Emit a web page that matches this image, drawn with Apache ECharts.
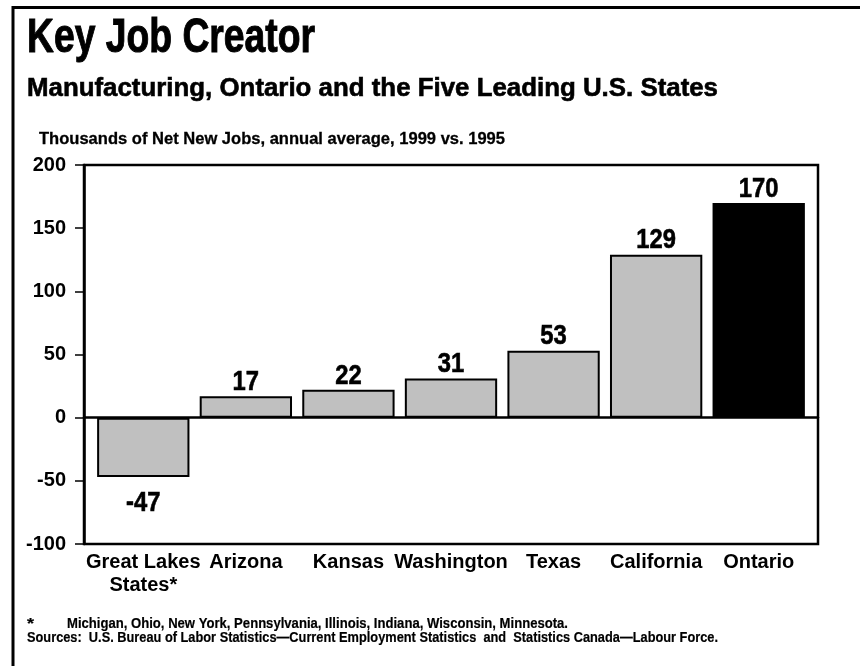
<!DOCTYPE html>
<html>
<head>
<meta charset="utf-8">
<script src="https://cdn.jsdelivr.net/npm/echarts@6/dist/echarts.min.js"></script>
<style>
  html, body { margin: 0; padding: 0; background: #fff; }
  #chart { width: 860px; height: 666px; }
</style>
</head>
<body>
<div id="chart"></div>
<script>
// Net new manufacturing jobs (thousands), annual average 1999 vs. 1995
const categories = ['Great Lakes\nStates*', 'Arizona', 'Kansas', 'Washington', 'Texas', 'California', 'Ontario'];
const jobs = [-47, 17, 22, 31, 53, 129, 170];
const highlight = 'Ontario';
const yTicks = { min: -100, max: 200, interval: 50 };

const FAMILY = '"Liberation Sans", Arial, Helvetica, sans-serif';

// Condensed look: squeeze a text line horizontally to a given width
const measureCtx = document.createElement('canvas').getContext('2d');
function squeezed(text, x, y, size, width, heavy) {
  measureCtx.font = 'bold ' + size + 'px ' + FAMILY;
  const w = measureCtx.measureText(text).width;
  return {
    type: 'text', x: x, y: y, scaleX: width / w,
    style: {
      text: text, fontFamily: FAMILY, fontWeight: 'bold', fontSize: size,
      fill: '#000', verticalAlign: 'top',
      stroke: heavy ? '#000' : null, lineWidth: heavy || 0
    }
  };
}

const chart = echarts.init(document.getElementById('chart'), null, { renderer: 'canvas' });

const barData = jobs.map((v, i) => ({
  value: v,
  itemStyle: { color: categories[i] === highlight ? '#000000' : '#c0c0c0' }
}));

const option = {
  backgroundColor: '#ffffff',
  animation: false,
  textStyle: { fontFamily: FAMILY },
  grid: [
    // plot frame carrying the value scale
    { left: 84, right: 42, top: 165, bottom: 122, show: true, borderColor: '#000', borderWidth: 2.5, backgroundColor: 'transparent' },
    // band in which the bars sit
    { left: 92, right: 50, top: 165, bottom: 122 }
  ],
  xAxis: [
    {
      gridIndex: 0, type: 'category', data: categories,
      axisLine: { show: true, onZero: true, lineStyle: { color: '#000', width: 2.5 } },
      axisTick: { show: false }, axisLabel: { show: false }, z: 10
    },
    {
      gridIndex: 1, type: 'category', data: categories,
      axisLine: { show: false }, axisTick: { show: false },
      axisLabel: {
        color: '#000', fontFamily: FAMILY, fontWeight: 'bold', fontSize: 20,
        lineHeight: 23, margin: 7, interval: 0
      }
    }
  ],
  yAxis: [
    {
      gridIndex: 0, type: 'value', min: yTicks.min, max: yTicks.max, interval: yTicks.interval,
      axisLine: { show: true, lineStyle: { color: '#000', width: 2.5 } },
      axisTick: { show: true, inside: false, length: 9, lineStyle: { color: '#000', width: 1.5 } },
      axisLabel: { color: '#000', fontFamily: FAMILY, fontWeight: 'bold', fontSize: 20, margin: 18 },
      splitLine: { show: false }
    },
    {
      gridIndex: 1, type: 'value', min: yTicks.min, max: yTicks.max, interval: yTicks.interval,
      show: false, splitLine: { show: false }
    }
  ],
  series: [
    {
      type: 'bar', xAxisIndex: 1, yAxisIndex: 1,
      data: barData,
      barWidth: '90%',
      itemStyle: { borderColor: '#000', borderWidth: 2 },
      z: 2
    },
    {
      // value labels above / below each bar, condensed
      type: 'custom', xAxisIndex: 1, yAxisIndex: 1,
      data: jobs.map((v, i) => [i, v]),
      z: 5,
      renderItem: function (params, api) {
        const v = api.value(1);
        const p = api.coord([api.value(0), v]);
        const up = v >= 0;
        return {
          type: 'text',
          x: p[0],
          y: up ? p[1] : p[1] + 12,
          scaleX: 0.85,
          style: {
            text: String(v), fontFamily: FAMILY, fontWeight: 'bold', fontSize: 28, fill: '#000',
            stroke: '#000', lineWidth: 0.6,
            align: 'center', verticalAlign: up ? 'bottom' : 'top'
          }
        };
      }
    }
  ],
  graphic: [
    // page frame
    { type: 'line', shape: { x1: 12, y1: 7.5, x2: 860, y2: 7.5 }, style: { stroke: '#000', lineWidth: 3 } },
    { type: 'line', shape: { x1: 13, y1: 6, x2: 13, y2: 666 }, style: { stroke: '#000', lineWidth: 3 } },
    squeezed('Key Job Creator', 27, 15, 48, 288, 1),
    squeezed('Manufacturing, Ontario and the Five Leading U.S. States', 27, 76, 26, 691, 0.6),
    squeezed('Thousands of Net New Jobs, annual average, 1999 vs. 1995', 39, 131, 17, 466, 0.3),
    squeezed('*', 27, 616, 15, 7, 0.2),
    squeezed('Michigan, Ohio, New York, Pennsylvania, Illinois, Indiana, Wisconsin, Minnesota.', 67, 616, 15, 501, 0.2),
    squeezed('Sources:  U.S. Bureau of Labor Statistics\u2014Current Employment Statistics  and  Statistics Canada\u2014Labour Force.', 27, 630, 15, 691, 0.2)
  ]
};

chart.setOption(option);
</script>
</body>
</html>
